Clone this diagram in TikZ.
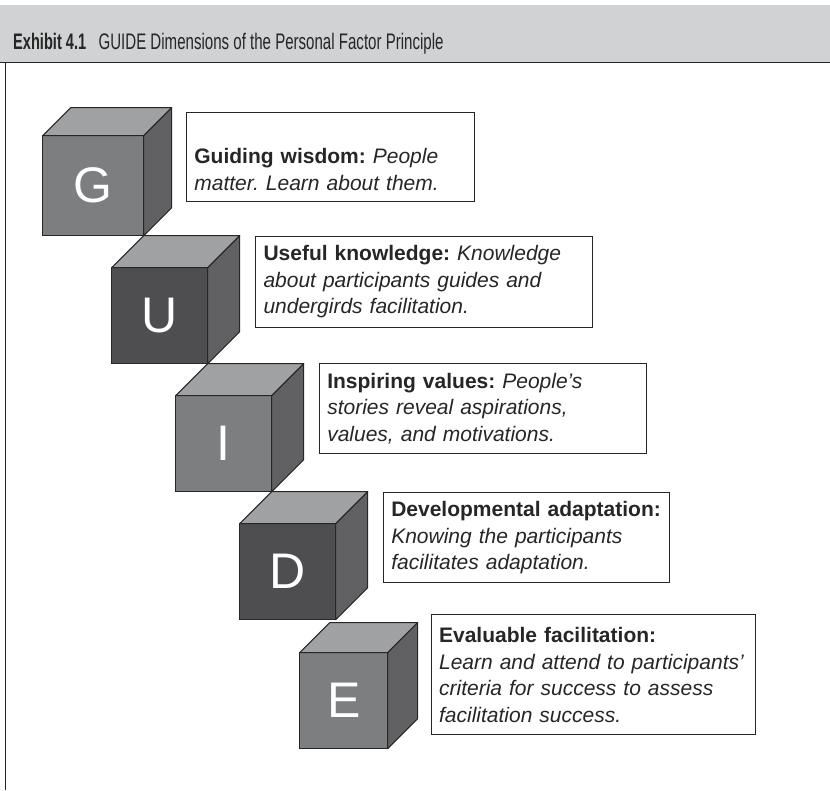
\documentclass[tikz,border=0pt]{standalone}
\usepackage{fontspec}
\setmainfont{Liberation Sans}
\usepackage{graphicx}
\usepackage{tikz}
\usetikzlibrary{positioning,calc}

\definecolor{headgrey}{HTML}{D1D2D4}
\definecolor{cubetop}{HTML}{A0A1A3}
\definecolor{cubeside}{HTML}{616163}
\definecolor{cubelight}{HTML}{7D7E80}
\definecolor{cubedark}{HTML}{4E4E50}
\definecolor{edge}{HTML}{262626}

\begin{document}
\begin{tikzpicture}[
  x=1pt,y=1pt,
  % Styles
  headtext/.style={inner sep=0pt,font=\fontsize{22.5}{22.5}\selectfont,text=edge},
  cubefront/.style={draw=edge,line width=1pt,inner sep=0pt,outer sep=0pt,anchor=north west,
    text=white,font=\fontsize{50}{50}\selectfont},
  topface/.style={draw=edge,fill=cubetop,line width=1pt,line join=round},
  sideface/.style={draw=edge,fill=cubeside,line width=1pt,line join=round},
  infobox/.style={draw=edge,line width=1pt,anchor=north west,inner xsep=8pt,inner ysep=0pt,
    outer sep=0pt,align=left,text=edge,font=\fontsize{21}{26.6}\selectfont\frenchspacing},
  ]
\useasboundingbox (0,0) rectangle (830,790);

%--- Title band -----------------------------------------------------
\fill[headgrey] (0,727.3) rectangle (830,785);
\draw[edge,line width=1.5pt] (0,727.3) -- (830,727.3);
\draw[edge,line width=1.5pt] (5.5,727.3) -- (5.5,0);

% condensed lettering: squeeze to width, keep height
\node[headtext,anchor=base west] (exhibit) at (13,740.7)
  {\resizebox{73pt}{\height}{\bfseries Exhibit 4.1}};
\node[headtext,right=12pt of exhibit.base east,anchor=base west] (title)
  {\resizebox{345pt}{\height}{GUIDE Dimensions of the Personal Factor Principle}};

%--- Cubes ----------------------------------------------------------
% G
\node[cubefront,fill=cubelight,minimum width=101pt,minimum height=100pt] (cubeG) at (42.7,654.3) {G};
\draw[topface] (cubeG.north west) -- ++(28,28) -- ($(cubeG.north east)+(28,28)$) -- (cubeG.north east) -- cycle;
\draw[sideface] (cubeG.north east) -- ++(28,28) -- ($(cubeG.south east)+(28,28)$) -- (cubeG.south east) -- cycle;

% U
\node[cubefront,fill=cubedark,minimum width=96pt,minimum height=96pt,xshift=-32pt,yshift=-32pt]
  (cubeU) at (cubeG.south east) {U};
\draw[topface] (cubeU.north west) -- ++(32,32) -- ($(cubeU.north east)+(32,32)$) -- (cubeU.north east) -- cycle;
\draw[sideface] (cubeU.north east) -- ++(32,32) -- ($(cubeU.south east)+(32,32)$) -- (cubeU.south east) -- cycle;

% I
\node[cubefront,fill=cubelight,minimum width=96pt,minimum height=96pt,xshift=-32pt,yshift=-32pt]
  (cubeI) at (cubeU.south east) {I};
\draw[topface] (cubeI.north west) -- ++(32,32) -- ($(cubeI.north east)+(32,32)$) -- (cubeI.north east) -- cycle;
\draw[sideface] (cubeI.north east) -- ++(32,32) -- ($(cubeI.south east)+(32,32)$) -- (cubeI.south east) -- cycle;

% D
\node[cubefront,fill=cubedark,minimum width=96pt,minimum height=96pt,xshift=-32pt,yshift=-32pt]
  (cubeD) at (cubeI.south east) {D};
\draw[topface] (cubeD.north west) -- ++(32,32) -- ($(cubeD.north east)+(32,32)$) -- (cubeD.north east) -- cycle;
\draw[sideface] (cubeD.north east) -- ++(32,32) -- ($(cubeD.south east)+(32,32)$) -- (cubeD.south east) -- cycle;

% E
\node[cubefront,fill=cubelight,minimum width=88pt,minimum height=96pt,xshift=-36pt,yshift=-33pt]
  (cubeE) at (cubeD.south east) {E};
\draw[topface] (cubeE.north west) -- ++(30,30) -- ($(cubeE.north east)+(30,30)$) -- (cubeE.north east) -- cycle;
\draw[sideface] (cubeE.north east) -- ++(30,30) -- ($(cubeE.south east)+(30,30)$) -- (cubeE.south east) -- cycle;

%--- Text boxes -----------------------------------------------------
\node[infobox,text width=272pt,minimum height=89pt,text height=40pt,xshift=42.7pt,yshift=23pt] (boxG) at (cubeG.north east)
  {\textbf{Guiding wisdom:} \itshape People\\ matter. Learn about them.};

\node[infobox,text width=321pt,minimum height=91.6pt,xshift=47.8pt,yshift=31.6pt] (boxU) at (cubeU.north east)
  {\textbf{Useful knowledge:} \itshape Knowledge\\ about participants guides and\\ undergirds facilitation.};

\node[infobox,text width=311pt,minimum height=89.3pt,xshift=47.6pt,yshift=31.7pt] (boxI) at (cubeI.north east)
  {\textbf{Inspiring values:} \itshape People’s\\ stories reveal aspirations,\\ values, and motivations.};

\node[infobox,text width=270pt,minimum height=90.6pt,xshift=47.6pt,yshift=31.3pt] (boxD) at (cubeD.north east)
  {\textbf{Developmental adaptation:}\\ \itshape Knowing the participants\\ facilitates adaptation.};

\node[infobox,text width=308pt,minimum height=120pt,xshift=43.4pt,yshift=37.7pt] (boxE) at (cubeE.north east)
  {\textbf{Evaluable facilitation:}\\ \itshape Learn and attend to participants’\\ criteria for success to assess\\ facilitation success.};

\end{tikzpicture}
\end{document}
